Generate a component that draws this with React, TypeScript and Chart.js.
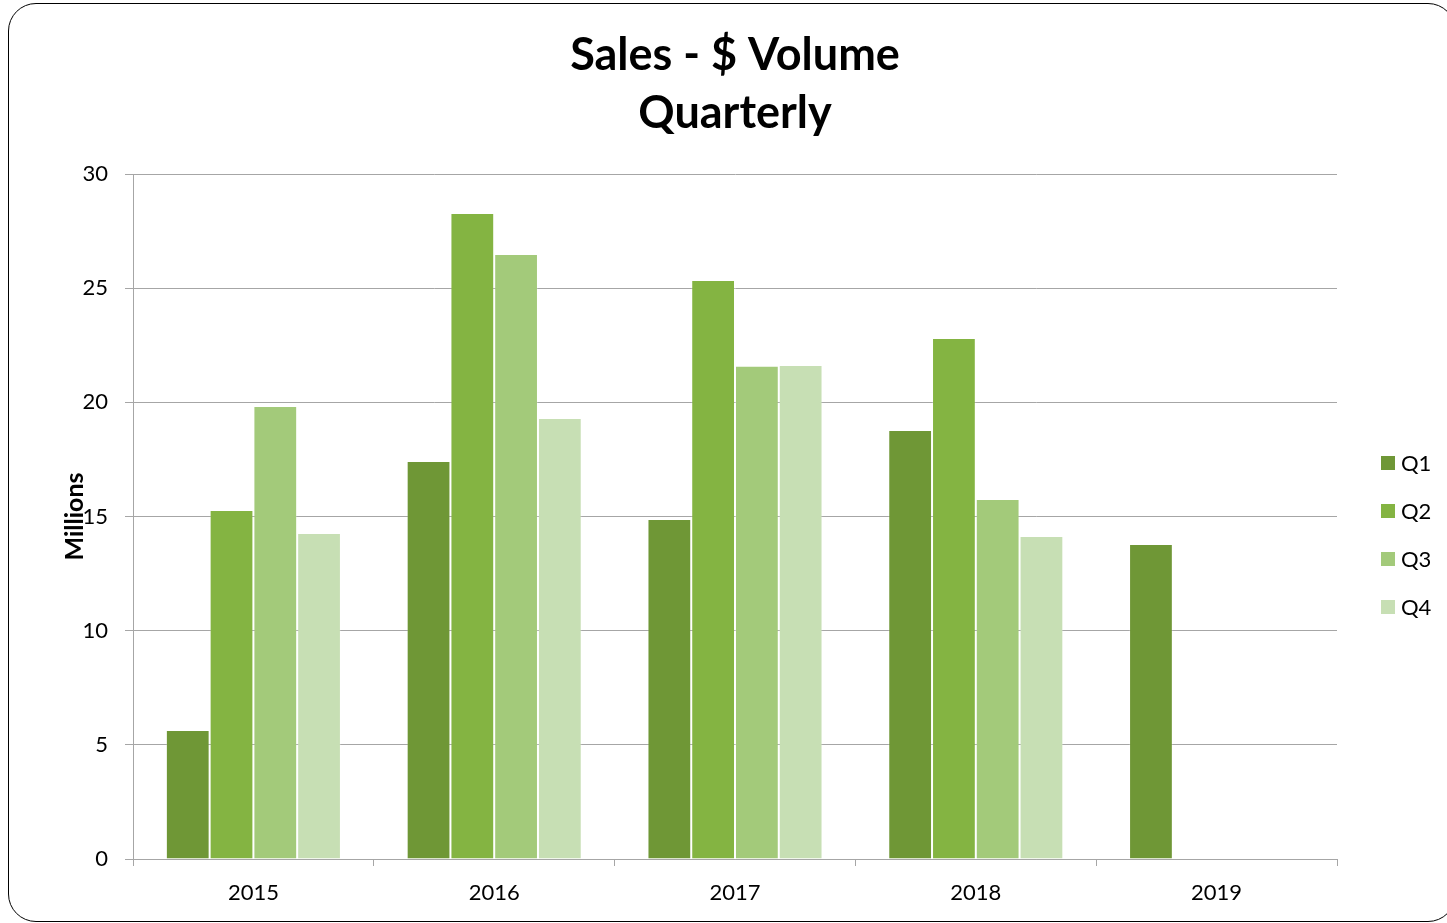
import React, { useEffect, useRef } from "react";
import { Chart, registerables } from "chart.js";

Chart.register(...registerables);

const categories = ["2015", "2016", "2017", "2018", "2019"];
const seriesNames = ["Q1", "Q2", "Q3", "Q4"];
const q1Values = [5.65, 17.43, 14.89, 18.79, 13.8];
const q2Values = [15.29, 28.3, 25.36, 22.82, null];
const q3Values = [19.84, 26.5, 21.6, 15.77, null];
const q4Values = [14.28, 19.32, 21.64, 14.15, null];
const seriesColors = ["#6F9736", "#84B442", "#A3CA7A", "#C7DFB4"];
const titleLines = ["Sales - $ Volume", "Quarterly"];
const yAxisTitle = "Millions";

const FONT = "Lato, 'Open Sans', sans-serif";
const GRID = "#A6A6A6";

// Legend drawn to the right of the plot area, vertically stacked
const sideLegend = {
  id: "sideLegend",
  afterDraw(chart: any) {
    const { ctx, chartArea } = chart;
    const datasets = chart.data.datasets;
    const n = datasets.length;
    const spacing = 48;
    const cy = (chartArea.top + chartArea.bottom) / 2 + 18.5;
    const x = chartArea.right + 44;
    ctx.save();
    ctx.font = `22px ${FONT}`;
    ctx.textBaseline = "middle";
    ctx.textAlign = "left";
    datasets.forEach((ds: any, i: number) => {
      const y = cy + (i - (n - 1) / 2) * spacing;
      ctx.fillStyle = ds.backgroundColor;
      ctx.fillRect(x, Math.round(y - 7), 14, 14);
      ctx.fillStyle = "#000";
      ctx.fillText(ds.label, x + 20, y + 1);
    });
    ctx.restore();
  },
};

export default function App() {
  const ref = useRef<HTMLCanvasElement | null>(null);

  useEffect(() => {
    const canvas = ref.current;
    if (!canvas) return;
    const allValues = [q1Values, q2Values, q3Values, q4Values];
    const chart = new Chart(canvas, {
      type: "bar",
      data: {
        labels: categories,
        datasets: seriesNames.map((name, i) => ({
          label: name,
          data: allValues[i],
          backgroundColor: seriesColors[i],
          borderColor: "rgba(255,255,255,0.22)",
          borderWidth: 1,
          borderSkipped: "bottom",
          categoryPercentage: 0.727,
          barPercentage: 1.0,
        })),
      },
      plugins: [sideLegend],
      options: {
        animation: false,
        responsive: false,
        maintainAspectRatio: false,
        layout: { padding: { left: 60, right: 110, top: 0, bottom: 0 } },
        plugins: {
          title: {
            display: true,
            fullSize: false,
            text: titleLines,
            color: "#000",
            font: { family: FONT, size: 45, weight: "bold", lineHeight: 1.29 },
            padding: { top: 26, bottom: 32 },
          },
          legend: { display: false },
          tooltip: { enabled: false },
        },
        scales: {
          x: {
            grid: {
              offset: true,
              drawOnChartArea: false,
              drawTicks: true,
              tickLength: 7,
              color: GRID,
            },
            border: { color: GRID, width: 1 },
            ticks: {
              color: "#000",
              font: { family: FONT, size: 22 },
              padding: 14,
              maxRotation: 0,
            },
            afterFit: (scale: any) => {
              scale.height = 64;
            },
          },
          y: {
            min: 0,
            max: 30,
            ticks: {
              stepSize: 5,
              color: "#000",
              font: { family: FONT, size: 22 },
              padding: 17,
            },
            grid: { color: GRID, tickLength: 8, drawTicks: true },
            border: { color: GRID, width: 1 },
            title: {
              display: true,
              text: yAxisTitle,
              color: "#000",
              font: { family: FONT, size: 25, weight: "bold" },
              padding: { top: 0, bottom: 0 },
            },
            afterFit: (scale: any) => {
              scale.width = 73;
            },
          },
        },
      },
    });
    return () => chart.destroy();
  }, []);

  return (
    <div
      style={{
        position: "fixed",
        left: 0,
        top: 0,
        width: 1447,
        height: 923,
        overflow: "hidden",
        background: "#fff",
      }}
    >
      <div
        style={{
          position: "absolute",
          left: 8,
          top: 3,
          width: 1448,
          height: 919,
          border: "1.5px solid #000",
          borderRadius: 28,
          boxSizing: "border-box",
        }}
      />
      <canvas
        ref={ref}
        width={1447}
        height={923}
        style={{ position: "absolute", left: 0, top: 0, width: 1447, height: 923 }}
      />
    </div>
  );
}
